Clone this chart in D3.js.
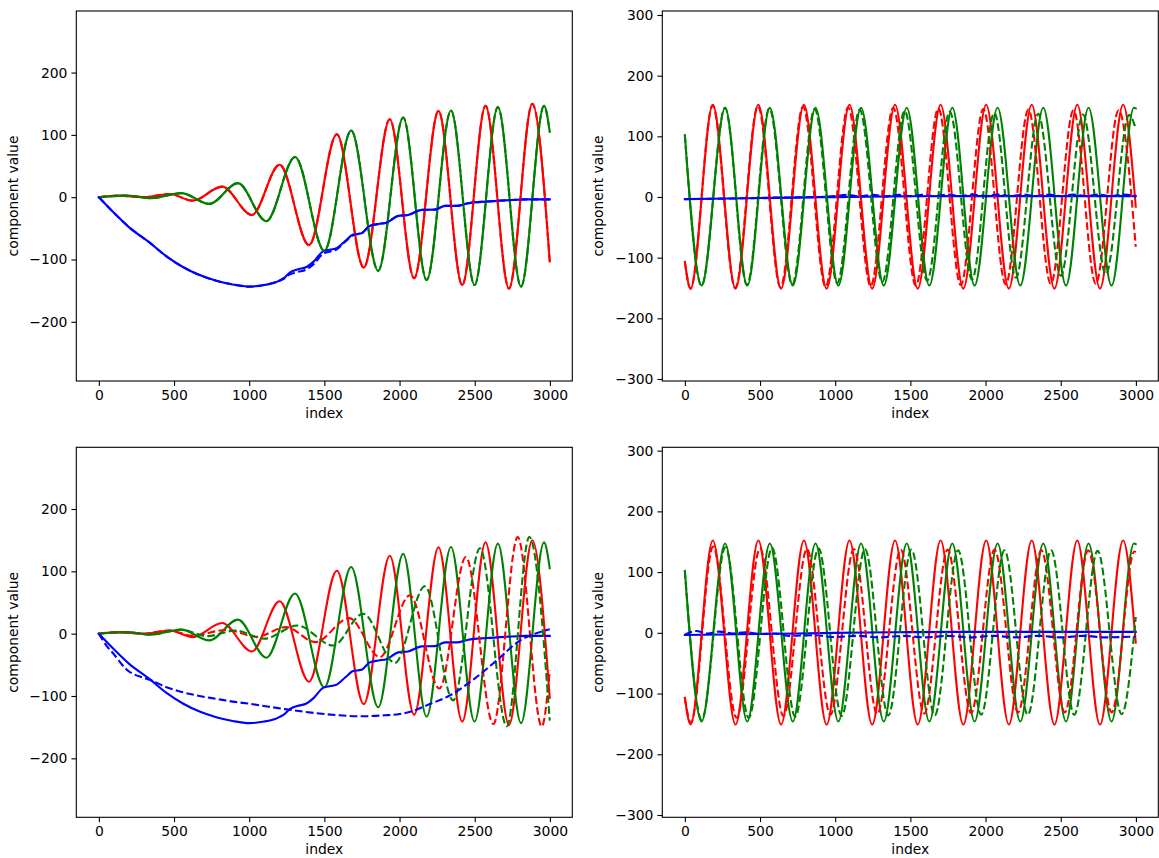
<!DOCTYPE html>
<html><head><meta charset="utf-8">
<script src="https://cdn.jsdelivr.net/npm/d3@7"></script>
<style>html,body{margin:0;padding:0;background:#fff}svg{display:block}</style>
</head><body>
<svg id="chart" width="1159" height="858"></svg>
<script>
// ---- tick labels ----
const xTicks = [0, 500, 1000, 1500, 2000, 2500, 3000];
const yTicksLeft = [-200, -100, 0, 100, 200];
const yTicksRight = [-300, -200, -100, 0, 100, 200, 300];
const xLabel = "index";
const yLabel = "component value";

// ---- left column, solid series (also used in bottom-left) ----
const tlRed = [[0,0],[130,2.5],[300,0],[470,5],[625,-5.5],[820,17],[1018,-28.5],[1202,52],[1398,-77],[1583,101],[1762,-113],[1935,125],[2097,-130],[2259,138.5],[2417,-141],[2572,146.5],[2728,-146.7],[2883,149.8],[2999,-103]];
const tlGreen = [[0,0],[180,2.5],[350,-1.5],[548,6.5],[735,-10.8],[925,22.5],[1114,-38.6],[1305,64.5],[1500,-86],[1678,107],[1858,-118],[2024,128],[2180,-133],[2342,139],[2499,-141],[2654,144.5],[2808,-143.5],[2961,146.5],[2999,105]];
const tlBlue = [[0,0],[100,-25],[200,-48],[338,-73],[450,-95],[559,-112],[670,-125],[781,-134],[890,-140],[1000,-143.5],[1100,-141],[1181,-136],[1230,-130],[1270,-121],[1320,-116],[1381,-112],[1430,-103],[1491,-87],[1540,-84],[1580,-82],[1640,-70],[1691,-60],[1747,-58],[1802,-46],[1860,-43],[1913,-41],[1991,-30],[2057,-28.5],[2146,-20.4],[2235,-20],[2302,-14],[2380,-14],[2457,-9.7],[2579,-7],[2712,-5],[2840,-3.5],[2999,-3.5]];
// top-left dashed (almost identical to solid)
const tlRedDashed = tlRed;
const tlGreenDashed = tlGreen;
const tlBlueDashed = [[0,0],[100,-25],[200,-48],[338,-73],[450,-95],[559,-112],[670,-125],[781,-134],[890,-140],[1000,-143.5],[1100,-141],[1181,-136],[1230,-131],[1270,-124],[1320,-120],[1381,-116],[1430,-107],[1491,-91],[1540,-87],[1580,-84],[1640,-71],[1691,-61],[1747,-58],[1802,-46],[1860,-43],[1913,-41],[1991,-30],[2057,-28.5],[2146,-20.4],[2235,-20],[2302,-14],[2380,-14],[2457,-9.7],[2579,-7],[2712,-5],[2840,-3.5],[2999,-3.5]];

// bottom-left dashed
const blRedDashed = [[0,0],[130,2.5],[300,0],[470,5],[620,-3],[850,6],[1050,-5],[1245,10.6],[1440,-13.5],[1665,25],[1869,-37.5],[2069,61.5],[2265,-88],[2441,123],[2624,-145],[2786,155],[2946,-149],[2999,-59]];
const blGreenDashed = [[0,0],[180,2.5],[350,-1.5],[548,6.5],[720,-4],[910,5],[1100,-8],[1320,13],[1558,-19],[1758,32],[1969,-47],[2169,76],[2357,-107],[2535,137],[2713,-148.6],[2863,155],[2999,-139.5]];
const blBlueDashed = [[0,0],[50,-19],[100,-33],[182,-57],[300,-71],[338,-74],[450,-86],[559,-94],[670,-100],[781,-104.5],[890,-109],[1003,-112.5],[1225,-120.6],[1447,-127.6],[1600,-131],[1758,-132.5],[1900,-131],[2000,-129],[2090,-124],[2180,-115],[2335,-99],[2500,-72],[2646,-43],[2801,-11],[2900,0],[2999,7]];

// ---- right column, solid series (also used in bottom-right) ----
const trRed = [[0,-107],[38,-151],[186,152],[337,-151],[489,152],[640,-151],[792,152],[943,-151],[1095,152],[1246,-151],[1398,152],[1549,-151],[1701,152],[1852,-151],[2004,152],[2155,-151],[2307,152],[2458,-151],[2610,152],[2761,-151],[2915,152],[2999,-16]];
const trGreen = [[0,102],[111,-146],[268,147],[415,-146],[565,147],[718,-146],[869,147],[1021,-146],[1172,147],[1323,-146],[1476,147],[1626,-146],[1779,147],[1927,-146],[2080,147],[2231,-146],[2384,147],[2535,-146],[2685,147],[2838,-146],[2987,147],[2999,146]];
const trBlue = [[0,-3.5],[300,-2.5],[600,-1.5],[900,-0.5],[1200,0.5],[1500,1.2],[1800,1.5],[2100,1.5],[2400,1.5],[2700,1.5],[2999,1.5]];
// top-right dashed
const trRedDashed = [[0,-107],[38,-151],[185,151],[335,-150],[486,150],[636,-149],[786,149],[936,-148],[1086,148],[1236,-147],[1386,147],[1536,-146],[1686,146],[1835,-145],[1985,145],[2134,-144],[2285,144],[2434,-143],[2585,143],[2733,-143],[2885,143],[2999,-82]];
const trGreenDashed = [[0,102],[111,-146],[267,147],[413,-145],[562,146],[714,-144],[863,145],[1014,-142],[1163,144],[1313,-140],[1462,142],[1612,-138],[1762,141],[1910,-136],[2058,139],[2202,-133],[2350,137],[2501,-130],[2648,136],[2800,-127],[2955,135],[2999,113]];
const trBlueDashed = [[0,-3.5],[300,-2.5],[600,-1],[900,0],[1000,1.5],[1080,3.5],[1160,1],[1250,3.5],[1330,1],[1420,3.5],[1500,1.5],[1580,3.5],[1660,1.5],[1750,4],[1830,1.5],[1920,4],[2000,1.5],[2080,4],[2170,1.5],[2250,4],[2330,1.5],[2420,4],[2500,1.5],[2580,4],[2670,1.5],[2750,4],[2830,1.5],[2920,4],[2999,2]];

// bottom-right dashed
const brRedDashed = [[0,-107],[40,-148],[188,142],[344,-140],[500,139],[656,-137],[812,138],[968,-135],[1124,138],[1280,-134],[1436,137],[1592,-133],[1748,137],[1904,-132],[2060,137],[2216,-131],[2371,136],[2527,-131],[2683,136],[2839,-131],[2990,134],[2999,133]];
const brGreenDashed = [[0,102],[112,-143],[270,141],[425,-140],[580,140],[734,-138],[889,139],[1043,-137],[1198,138],[1353,-136],[1507,137],[1662,-136],[1817,136],[1971,-135],[2126,136],[2281,-135],[2436,136],[2590,-135],[2745,135],[2905,-134],[2999,26]];
const brBlueDashed = [[0,-3],[75,3],[150,-1],[230,2],[320,-1],[400,1],[500,-2],[600,-1],[700,-5],[850,-4],[1000,-7],[1150,-5],[1300,-7.5],[1450,-5],[1600,-7.5],[1750,-5],[1900,-7.5],[2050,-5],[2200,-7.5],[2350,-5],[2500,-7.5],[2650,-5],[2800,-7.5],[2999,-6]];

const colors = ["#ff0000", "#008000", "#0000ff"];

const panels = [
  {box:[76.3,572.3,11,381],     ydom:[-295,298.8],   yticks:yTicksLeft,  solid:[tlRed,tlGreen,tlBlue], dashed:[tlRedDashed,tlGreenDashed,tlBlueDashed], ylabX:18},
  {box:[662.3,1158.3,11,381],   ydom:[-303.3,306.6], yticks:yTicksRight, solid:[trRed,trGreen,trBlue], dashed:[trRedDashed,trGreenDashed,trBlueDashed], ylabX:603},
  {box:[76.3,572.3,447.3,817.3],ydom:[-294.6,299],   yticks:yTicksLeft,  solid:[tlRed,tlGreen,tlBlue], dashed:[blRedDashed,blGreenDashed,blBlueDashed], ylabX:18},
  {box:[662.3,1158.3,447.3,817.3],ydom:[-303.8,305.5],yticks:yTicksRight,solid:[trRed,trGreen,trBlue], dashed:[brRedDashed,brGreenDashed,brBlueDashed], ylabX:603}
];

const svg = d3.select("#chart");
const font = "DejaVu Sans, sans-serif";
const fmt = v => (v < 0 ? "\u2212" + Math.abs(v) : String(v));

panels.forEach((p, i) => {
  const [l, r, t, b] = p.box;
  const x = d3.scaleLinear().domain([-150, 3149]).range([l, r]);
  const y = d3.scaleLinear().domain(p.ydom).range([b, t]);
  const g = svg.append("g");
  const cid = "clip" + i;
  g.append("clipPath").attr("id", cid).append("rect")
    .attr("x", l).attr("y", t).attr("width", r - l).attr("height", b - t);
  const line = d3.line().x(d => x(d[0])).y(d => y(d[1])).curve(d3.curveMonotoneX);
  const plot = g.append("g").attr("clip-path", `url(#${cid})`);
  p.solid.forEach((s, k) => {
    plot.append("path").datum(s).attr("d", line).attr("fill", "none")
      .attr("stroke", colors[k]).attr("stroke-width", 2.08)
      .attr("stroke-linejoin", "round").attr("stroke-linecap", "square");
  });
  p.dashed.forEach((s, k) => {
    plot.append("path").datum(s).attr("d", line).attr("fill", "none")
      .attr("stroke", colors[k]).attr("stroke-width", 2.08)
      .attr("stroke-dasharray", "7.7,3.3").attr("stroke-linejoin", "round");
  });
  // frame
  g.append("rect").attr("x", l).attr("y", t).attr("width", r - l).attr("height", b - t)
    .attr("fill", "none").attr("stroke", "#000").attr("stroke-width", 1.1);
  // axes
  const xa = d3.axisBottom(x).tickValues(xTicks).tickSize(4.9).tickPadding(4).tickFormat(fmt);
  const gx = g.append("g").attr("transform", `translate(0,${b})`).call(xa);
  const ya = d3.axisLeft(y).tickValues(p.yticks).tickSize(4.9).tickPadding(4).tickFormat(fmt);
  const gy = g.append("g").attr("transform", `translate(${l},0)`).call(ya);
  [gx, gy].forEach(a => {
    a.select(".domain").remove();
    a.selectAll(".tick line").attr("stroke", "#000").attr("stroke-width", 1.1);
    a.selectAll(".tick text").attr("fill", "#000").attr("font-family", font).attr("font-size", "13.9px");
  });
  // labels
  g.append("text").attr("x", (l + r) / 2).attr("y", b + 36.5).attr("text-anchor", "middle")
    .attr("font-family", font).attr("font-size", "13.9px").attr("fill", "#000").text(xLabel);
  g.append("text").attr("transform", `translate(${p.ylabX},${(t + b) / 2}) rotate(-90)`)
    .attr("text-anchor", "middle").attr("font-family", font).attr("font-size", "13.9px")
    .attr("fill", "#000").text(yLabel);
});
</script>
</body></html>
